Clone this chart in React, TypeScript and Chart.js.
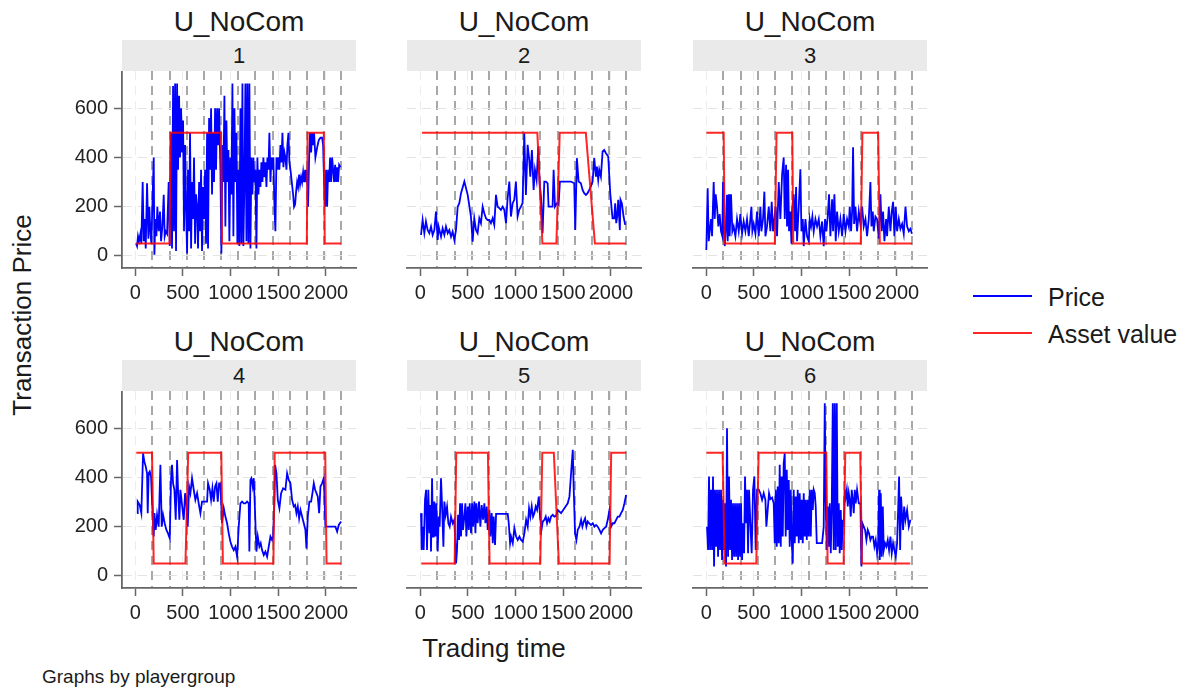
import React, { useEffect, useRef } from 'react';
import { Chart, registerables } from 'chart.js';

Chart.register(...registerables);

const FONT = '"Liberation Sans", Arial, Helvetica, sans-serif';

const panelTitle = 'U_NoCom';
const panelLabels = ['1', '2', '3', '4', '5', '6'];
const xTicks = [0, 500, 1000, 1500, 2000];
const yTicks = [0, 200, 400, 600];
const periodLines = [180, 360, 540, 720, 900, 1080, 1260, 1440, 1620, 1800, 1980, 2160];
const legendLabels = ['Price', 'Asset value'];

// Transaction prices per group: [trading time, price]
const price1: [number, number][] = [
  [7, 51], [18, 40], [28, 80], [39, 60], [53, 90], [63, 50], [77, 300], [88, 60], [98, 150], [109, 30], [123, 295], [137, 70], [147, 200], [158, 100], [168, 50], [182, 250], [193, 400], [200, 5],
  [210, 150], [221, 80], [231, 200], [245, 100], [259, 180], [270, 60], [284, 120], [298, 248], [308, 80], [319, 100], [333, 90], [350, 300], [361, 40], [375, 500], [385, 30], [396, 690],
  [406, 100], [417, 700], [427, 20], [438, 700], [448, 350], [459, 650], [469, 400], [480, 600], [490, 420], [501, 550], [511, 100], [522, 450], [532, 200], [543, 10], [553, 350], [564, 100],
  [574, 500], [585, 30], [595, 300], [606, 150], [616, 400], [627, 50], [637, 250], [648, 200], [658, 30], [669, 300], [679, 100], [690, 350], [700, 20], [711, 280], [721, 150], [732, 350],
  [742, 50], [753, 500], [763, 30], [774, 560], [784, 350], [795, 600], [805, 250], [816, 500], [826, 300], [837, 600], [847, 350], [858, 600], [868, 450], [879, 600], [893, 350], [903, 10],
  [914, 450], [924, 300], [935, 650], [945, 120], [956, 550], [966, 300], [977, 430], [987, 60], [998, 400], [1008, 250], [1019, 700], [1029, 80], [1040, 600], [1050, 300], [1061, 500],
  [1071, 50], [1082, 350], [1092, 40], [1103, 600], [1113, 50], [1124, 700], [1134, 40], [1145, 300], [1155, 700], [1166, 60], [1176, 700], [1187, 50], [1197, 700], [1208, 30], [1218, 400],
  [1229, 250], [1239, 400], [1250, 300], [1260, 350], [1271, 30], [1281, 400], [1292, 250], [1302, 350], [1313, 280], [1323, 380], [1334, 300], [1344, 400], [1355, 320], [1365, 380],
  [1376, 280], [1386, 400], [1397, 350], [1407, 500], [1418, 300], [1428, 400], [1439, 350], [1449, 400], [1460, 200], [1470, 100], [1481, 400], [1491, 350], [1502, 400], [1512, 350],
  [1523, 450], [1533, 380], [1544, 500], [1554, 360], [1565, 420], [1575, 400], [1586, 350], [1596, 450], [1607, 500], [1617, 380], [1628, 350], [1642, 300], [1656, 250], [1666, 200],
  [1677, 210], [1687, 260], [1698, 300], [1708, 280], [1719, 330], [1729, 290], [1740, 320], [1750, 300], [1761, 340], [1771, 300], [1782, 350], [1792, 300], [1803, 350], [1813, 200],
  [1824, 400], [1834, 500], [1845, 420], [1855, 500], [1866, 450], [1876, 500], [1890, 400], [1908, 440], [1925, 470], [1943, 480], [1960, 480], [1971, 450], [1981, 300], [1992, 200],
  [2002, 350], [2013, 200], [2023, 350], [2034, 300], [2044, 400], [2055, 300], [2065, 400], [2076, 350], [2086, 300], [2097, 370], [2107, 300], [2118, 360], [2128, 300], [2139, 370], [2153, 360],
];

const price2: [number, number][] = [
  [7, 85], [24, 146], [42, 92], [59, 140], [77, 105], [94, 92], [112, 119], [129, 85], [147, 105], [164, 180], [182, 65], [192, 119], [217, 78], [234, 112], [252, 85], [269, 119], [287, 92],
  [304, 105], [322, 78], [339, 99], [357, 65], [374, 105], [392, 200], [409, 214], [427, 255], [462, 302], [497, 248], [531, 160], [549, 58], [566, 153], [584, 105], [601, 92], [619, 153],
  [636, 133], [654, 200], [671, 173], [689, 153], [706, 146], [724, 146], [741, 133], [759, 153], [776, 126], [794, 248], [811, 200], [829, 194], [846, 187], [864, 200], [881, 187], [899, 133],
  [916, 234], [934, 302], [951, 160], [969, 214], [986, 228], [1003, 302], [1021, 160], [1038, 187], [1056, 200], [1073, 214], [1091, 498], [1108, 248], [1126, 451], [1143, 390], [1154, 322],
  [1171, 430], [1189, 268], [1203, 350], [1220, 309], [1238, 444], [1252, 295], [1266, 241], [1283, 92], [1301, 302], [1318, 302], [1336, 295], [1346, 200], [1371, 200], [1388, 200],
  [1399, 350], [1413, 200], [1434, 214], [1451, 207], [1465, 302], [1493, 302], [1545, 302], [1580, 302], [1615, 295], [1626, 105], [1643, 397], [1661, 302], [1685, 295], [1703, 268],
  [1720, 255], [1738, 248], [1755, 255], [1773, 268], [1790, 282], [1808, 302], [1825, 397], [1843, 322], [1853, 363], [1867, 309], [1878, 350], [1895, 322], [1913, 424], [1930, 430],
  [1948, 417], [1972, 404], [1993, 255], [2017, 153], [2035, 153], [2045, 214], [2056, 133], [2066, 160], [2077, 228], [2094, 105], [2101, 228], [2115, 214], [2133, 160], [2150, 126],
];

const price3: [number, number][] = [
  [0, 24], [14, 275], [25, 60], [35, 100], [49, 150], [60, 80], [77, 300], [88, 150], [98, 250], [112, 200], [126, 120], [140, 170], [154, 100], [168, 80], [175, 300], [182, 150], [193, 40],
  [203, 100], [217, 248], [224, 60], [238, 250], [245, 80], [259, 250], [273, 100], [287, 120], [305, 80], [322, 150], [340, 100], [357, 170], [375, 90], [392, 140], [410, 100], [427, 150],
  [445, 80], [462, 150], [473, 200], [483, 100], [497, 130], [515, 90], [532, 180], [550, 80], [567, 200], [578, 100], [595, 150], [609, 261], [620, 80], [637, 120], [655, 200], [672, 100],
  [686, 220], [700, 100], [714, 150], [728, 200], [742, 80], [760, 300], [777, 150], [795, 330], [812, 400], [823, 150], [837, 370], [847, 120], [858, 350], [868, 100], [882, 180], [893, 50],
  [903, 200], [917, 250], [931, 100], [942, 280], [952, 60], [970, 200], [987, 352], [998, 100], [1012, 150], [1022, 40], [1040, 150], [1057, 80], [1075, 60], [1085, 150], [1099, 120],
  [1113, 160], [1127, 100], [1145, 150], [1162, 120], [1180, 150], [1197, 80], [1215, 140], [1232, 40], [1246, 150], [1260, 100], [1274, 160], [1288, 250], [1302, 80], [1320, 230], [1330, 100],
  [1344, 250], [1358, 60], [1372, 180], [1390, 100], [1407, 150], [1425, 80], [1442, 170], [1460, 100], [1477, 150], [1495, 120], [1505, 200], [1519, 100], [1530, 180], [1540, 441],
  [1551, 130], [1565, 200], [1582, 100], [1600, 180], [1617, 130], [1635, 200], [1652, 120], [1670, 150], [1687, 80], [1705, 150], [1722, 300], [1733, 120], [1747, 180], [1757, 100],
  [1775, 160], [1792, 150], [1810, 70], [1827, 250], [1841, 100], [1855, 180], [1869, 60], [1887, 150], [1897, 80], [1915, 200], [1932, 100], [1946, 180], [1960, 220], [1974, 80],
  [1988, 200], [2002, 100], [2020, 150], [2037, 110], [2055, 130], [2072, 90], [2090, 200], [2107, 120], [2125, 100], [2142, 110], [2158, 90],
];

const price4: [number, number][] = [
  [18, 255], [25, 302], [46, 288], [63, 255], [81, 498], [95, 464], [109, 444], [123, 417], [130, 255], [140, 417], [151, 424], [165, 404], [175, 309], [193, 160], [200, 255], [214, 187],
  [228, 248], [245, 200], [263, 451], [277, 200], [291, 248], [308, 214], [326, 187], [343, 173], [361, 153], [375, 397], [385, 451], [396, 376], [410, 350], [424, 228], [438, 471], [448, 350],
  [462, 228], [473, 350], [490, 288], [508, 228], [522, 336], [536, 288], [550, 200], [564, 363], [578, 336], [595, 397], [613, 350], [630, 309], [648, 336], [665, 295], [683, 255], [700, 302],
  [718, 302], [735, 302], [753, 302], [763, 376], [781, 350], [795, 309], [809, 356], [823, 302], [837, 363], [851, 376], [865, 302], [879, 376], [893, 376], [910, 214], [928, 275], [945, 241],
  [963, 214], [980, 173], [998, 139], [1015, 119], [1033, 105], [1050, 119], [1068, 78], [1085, 200], [1103, 295], [1120, 302], [1138, 295], [1155, 295], [1173, 302], [1190, 295], [1197, 99],
  [1208, 390], [1218, 397], [1232, 363], [1243, 397], [1253, 295], [1271, 99], [1285, 160], [1302, 119], [1316, 133], [1330, 105], [1348, 85], [1365, 99], [1383, 78], [1400, 119], [1418, 160],
  [1435, 146], [1446, 160], [1460, 309], [1467, 451], [1481, 417], [1495, 309], [1512, 275], [1530, 336], [1551, 356], [1575, 350], [1593, 417], [1610, 390], [1628, 376], [1645, 309],
  [1663, 282], [1677, 288], [1691, 255], [1705, 282], [1719, 234], [1733, 268], [1750, 241], [1768, 214], [1785, 187], [1796, 112], [1810, 241], [1827, 302], [1845, 302], [1859, 336],
  [1873, 376], [1887, 350], [1901, 336], [1915, 322], [1929, 255], [1943, 363], [1960, 376], [1978, 397], [1995, 200], [2048, 200], [2100, 200], [2118, 180], [2135, 207], [2160, 221],
];

const price5: [number, number][] = [
  [7, 255], [14, 105], [25, 200], [35, 105], [49, 309], [60, 350], [70, 105], [84, 350], [95, 173], [105, 288], [112, 99], [123, 397], [133, 160], [140, 214], [147, 302], [158, 160],
  [168, 295], [182, 99], [193, 241], [203, 200], [217, 397], [231, 255], [242, 119], [252, 302], [266, 248], [280, 282], [294, 214], [308, 200], [322, 241], [340, 214], [357, 228],
  [364, 160], [375, 51], [385, 105], [396, 248], [406, 146], [417, 295], [427, 160], [438, 295], [448, 187], [462, 241], [473, 295], [483, 160], [497, 282], [508, 187], [518, 295],
  [532, 173], [543, 295], [553, 200], [567, 302], [578, 173], [588, 295], [602, 214], [616, 302], [630, 200], [644, 288], [658, 228], [672, 295], [683, 214], [697, 282], [707, 187],
  [725, 268], [735, 160], [749, 255], [760, 133], [770, 241], [784, 126], [795, 252], [830, 252], [882, 252], [917, 252], [928, 214], [942, 133], [952, 160], [970, 133], [987, 194],
  [1005, 160], [1022, 146], [1040, 160], [1057, 146], [1075, 139], [1092, 173], [1110, 228], [1127, 200], [1141, 275], [1155, 241], [1169, 282], [1183, 241], [1197, 255], [1211, 282],
  [1225, 268], [1243, 322], [1257, 241], [1271, 187], [1285, 221], [1302, 228], [1316, 241], [1330, 214], [1344, 234], [1358, 221], [1372, 241], [1390, 248], [1407, 241], [1425, 244],
  [1442, 268], [1477, 255], [1512, 275], [1547, 295], [1565, 322], [1582, 417], [1600, 512], [1610, 350], [1624, 173], [1638, 146], [1652, 187], [1670, 200], [1687, 228], [1701, 200],
  [1715, 221], [1729, 234], [1743, 200], [1757, 221], [1771, 214], [1792, 207], [1810, 214], [1827, 200], [1845, 207], [1862, 200], [1880, 187], [1897, 173], [1915, 187], [1932, 194],
  [1950, 200], [1967, 228], [1985, 268], [2002, 200], [2020, 214], [2037, 214], [2055, 228], [2072, 241], [2090, 241], [2107, 255], [2125, 268], [2142, 295], [2160, 329],
];

const price6: [number, number][] = [
  [7, 200], [18, 105], [28, 404], [39, 105], [49, 350], [60, 105], [70, 404], [81, 38], [91, 350], [102, 119], [112, 350], [123, 78], [133, 350], [144, 105], [154, 350], [165, 65],
  [175, 309], [186, 105], [196, 295], [207, 38], [217, 600], [228, 78], [238, 404], [249, 105], [259, 309], [270, 65], [280, 295], [291, 78], [301, 295], [312, 78], [322, 295], [333, 65],
  [343, 295], [354, 78], [364, 295], [375, 65], [385, 214], [396, 92], [406, 404], [417, 214], [427, 350], [438, 92], [448, 350], [462, 214], [476, 92], [490, 350], [504, 404], [518, 105],
  [532, 350], [550, 350], [567, 336], [585, 309], [602, 336], [620, 309], [630, 200], [644, 268], [658, 336], [672, 312], [690, 318], [707, 295], [718, 133], [728, 350], [739, 119],
  [749, 363], [760, 133], [770, 451], [781, 119], [791, 404], [802, 160], [812, 457], [823, 498], [833, 160], [844, 431], [854, 187], [865, 390], [875, 119], [886, 350], [896, 146],
  [907, 51], [917, 350], [928, 133], [938, 322], [949, 160], [959, 350], [970, 133], [980, 336], [991, 146], [1001, 309], [1012, 133], [1022, 336], [1033, 160], [1043, 309], [1054, 146],
  [1064, 309], [1075, 160], [1085, 350], [1096, 160], [1106, 350], [1117, 268], [1127, 350], [1138, 336], [1148, 282], [1159, 133], [1180, 133], [1215, 133], [1232, 200], [1243, 701],
  [1253, 309], [1264, 105], [1274, 282], [1285, 119], [1295, 295], [1306, 92], [1316, 268], [1327, 701], [1337, 105], [1348, 701], [1358, 105], [1369, 701], [1379, 119], [1390, 295],
  [1400, 92], [1411, 268], [1421, 105], [1432, 228], [1442, 200], [1453, 350], [1463, 322], [1474, 350], [1484, 282], [1495, 336], [1505, 309], [1516, 241], [1526, 350], [1537, 309],
  [1547, 255], [1558, 350], [1568, 295], [1582, 350], [1600, 295], [1617, 295], [1628, 38], [1638, 214], [1652, 200], [1666, 187], [1680, 146], [1694, 187], [1708, 173], [1722, 146],
  [1736, 160], [1750, 160], [1764, 119], [1778, 146], [1792, 92], [1803, 133], [1813, 350], [1820, 65], [1831, 336], [1841, 78], [1852, 282], [1862, 105], [1876, 133], [1890, 119],
  [1904, 146], [1918, 105], [1932, 160], [1946, 92], [1960, 133], [1974, 105], [1988, 78], [2002, 133], [2013, 268], [2023, 404], [2034, 105], [2044, 322], [2055, 241], [2065, 187],
  [2076, 282], [2090, 228], [2107, 268], [2125, 200], [2142, 228],
];

// Asset value per group: [trading time, value]
const asset1: [number, number][] = [[10, 50], [360, 50], [368, 500], [900, 500], [910, 50], [1800, 50], [1808, 500], [1978, 500], [1988, 50], [2160, 50]];
const asset2: [number, number][] = [[18, 500], [1228, 500], [1281, 50], [1428, 50], [1463, 500], [1737, 500], [1832, 50], [2158, 50]];
const asset3: [number, number][] = [[0, 500], [182, 500], [193, 50], [719, 50], [737, 500], [902, 500], [912, 50], [1621, 50], [1638, 500], [1803, 500], [1821, 50], [2160, 50]];
const asset4: [number, number][] = [[10, 500], [175, 500], [193, 50], [526, 50], [555, 500], [902, 500], [919, 50], [1449, 50], [1463, 500], [1993, 500], [2007, 50], [2160, 50]];
const asset5: [number, number][] = [[10, 50], [360, 50], [377, 500], [709, 500], [727, 50], [1259, 50], [1280, 500], [1401, 500], [1454, 50], [1986, 50], [2003, 500], [2160, 500]];
const asset6: [number, number][] = [[0, 500], [171, 500], [192, 50], [524, 50], [549, 500], [1259, 500], [1273, 50], [1441, 50], [1458, 500], [1615, 500], [1633, 50], [2140, 50]];

const prices = [price1, price2, price3, price4, price5, price6];
const assets = [asset1, asset2, asset3, asset4, asset5, asset6];

const BLUE = '#0000ff';
const RED = 'rgba(255,0,0,0.85)';

const COL_LEFT = [122, 407, 693];
const ROW_TOP = [71, 391];
const PLOT_W = 234;
const PLOT_H = 197;
const AXIS_W = 70;
const AXIS_H = 40;
const PAD_R = 14;

function Panel({ idx }: { idx: number }) {
  const ref = useRef<HTMLCanvasElement | null>(null);
  const col = idx % 3;
  const row = Math.floor(idx / 3);
  const showY = col === 0;
  const left = COL_LEFT[col];
  const top = ROW_TOP[row];

  useEffect(() => {
    if (!ref.current) return;
    const chart = new Chart(ref.current, {
      type: 'line',
      data: {
        datasets: [
          {
            label: legendLabels[1],
            data: assets[idx].map(([x, y]) => ({ x, y })),
            borderColor: RED,
            borderWidth: 2,
            pointRadius: 0,
            tension: 0,
          },
          {
            label: legendLabels[0],
            data: prices[idx].map(([x, y]) => ({ x, y })),
            borderColor: BLUE,
            borderWidth: 1.8,
            pointRadius: 0,
            tension: 0,
          },
        ],
      },
      options: {
        animation: false,
        responsive: false,
        events: [],
        layout: { padding: { left: 0, right: PAD_R, top: 0, bottom: 0 } },
        plugins: { legend: { display: false }, tooltip: { enabled: false }, title: { display: false } },
        scales: {
          x: {
            type: 'linear',
            position: 'bottom',
            min: -140,
            max: 2316,
            afterBuildTicks: (s: any) => { s.ticks = xTicks.map((v) => ({ value: v })); },
            afterFit: (s: any) => { s.height = AXIS_H; s.paddingLeft = 0; s.paddingRight = 0; s.paddingTop = 0; s.paddingBottom = 0; },
            ticks: {
              autoSkip: false,
              maxRotation: 0,
              minRotation: 0,
              padding: 5,
              color: '#222',
              font: { family: FONT, size: 20 },
              callback: (v: any) => String(v),
            },
            grid: { color: '#ececec', lineWidth: 1, drawTicks: true, tickLength: 8, tickColor: '#666', tickWidth: 1.5 },
            border: { display: true, color: '#666', width: 1.8, dash: [9, 6] },
          },
          xg: {
            type: 'linear',
            position: 'bottom',
            min: -140,
            max: 2316,
            afterBuildTicks: (s: any) => { s.ticks = periodLines.map((v) => ({ value: v })); },
            afterFit: (s: any) => { s.height = 0; s.paddingLeft = 0; s.paddingRight = 0; s.paddingTop = 0; s.paddingBottom = 0; },
            ticks: { display: false },
            grid: { color: '#a8a8a8', lineWidth: 2, drawTicks: false },
            border: { display: false, dash: [9, 6] },
          },
          y: {
            type: 'linear',
            position: 'left',
            min: -49,
            max: 751,
            afterBuildTicks: (s: any) => { s.ticks = yTicks.map((v) => ({ value: v })); },
            afterFit: (s: any) => { s.width = AXIS_W; s.paddingLeft = 0; s.paddingRight = 0; s.paddingTop = 0; s.paddingBottom = 0; },
            ticks: {
              display: showY,
              padding: 6,
              color: '#222',
              font: { family: FONT, size: 20 },
              callback: (v: any) => String(v),
            },
            grid: { color: '#e3e3e3', lineWidth: 1, drawTicks: showY, tickLength: 8, tickColor: '#666', tickWidth: 1.5 },
            border: { display: showY, color: '#666', width: 1.8, dash: [9, 6] },
          },
        },
      },
    } as any);
    return () => chart.destroy();
  }, [idx]);

  return (
    <>
      <div
        style={{
          position: 'absolute', left, top: top - 67, width: PLOT_W, height: 36, lineHeight: '36px',
          textAlign: 'center', fontFamily: FONT, fontSize: 28, color: '#1a1a1a',
        }}
      >
        {panelTitle}
      </div>
      <div
        style={{
          position: 'absolute', left, top: top - 31, width: PLOT_W, height: 31, lineHeight: '32px',
          background: '#eaeaea', textAlign: 'center', fontFamily: FONT, fontSize: 22, color: '#1a1a1a',
        }}
      >
        {panelLabels[idx]}
      </div>
      <canvas
        ref={ref}
        width={AXIS_W + PLOT_W + PAD_R}
        height={PLOT_H + AXIS_H}
        style={{ position: 'absolute', left: left - AXIS_W, top, width: AXIS_W + PLOT_W + PAD_R, height: PLOT_H + AXIS_H }}
      />
    </>
  );
}

export default function App() {
  return (
    <div style={{ position: 'fixed', left: 0, top: 0, width: 1192, height: 692, background: '#fff', overflow: 'hidden' }}>
      {[0, 1, 2, 3, 4, 5].map((i) => <Panel key={i} idx={i} />)}
      <div
        style={{
          position: 'absolute', left: 22, top: 315, transform: 'translate(-50%, -50%) rotate(-90deg)',
          whiteSpace: 'nowrap', fontFamily: FONT, fontSize: 26, color: '#1a1a1a',
        }}
      >
        Transaction Price
      </div>
      <div
        style={{
          position: 'absolute', left: 494, top: 648, transform: 'translate(-50%, -50%)',
          whiteSpace: 'nowrap', fontFamily: FONT, fontSize: 26, color: '#1a1a1a',
        }}
      >
        Trading time
      </div>
      <div
        style={{
          position: 'absolute', left: 42, top: 677, transform: 'translateY(-50%)',
          whiteSpace: 'nowrap', fontFamily: FONT, fontSize: 19, color: '#1a1a1a',
        }}
      >
        Graphs by playergroup
      </div>
      {[BLUE, RED].map((c, i) => (
        <React.Fragment key={i}>
          <div style={{ position: 'absolute', left: 973, top: 296 + i * 37 - 1, width: 59, height: 2, background: c }} />
          <div
            style={{
              position: 'absolute', left: 1048, top: 297 + i * 37, transform: 'translateY(-50%)',
              whiteSpace: 'nowrap', fontFamily: FONT, fontSize: 25, color: '#1a1a1a',
            }}
          >
            {legendLabels[i]}
          </div>
        </React.Fragment>
      ))}
    </div>
  );
}
